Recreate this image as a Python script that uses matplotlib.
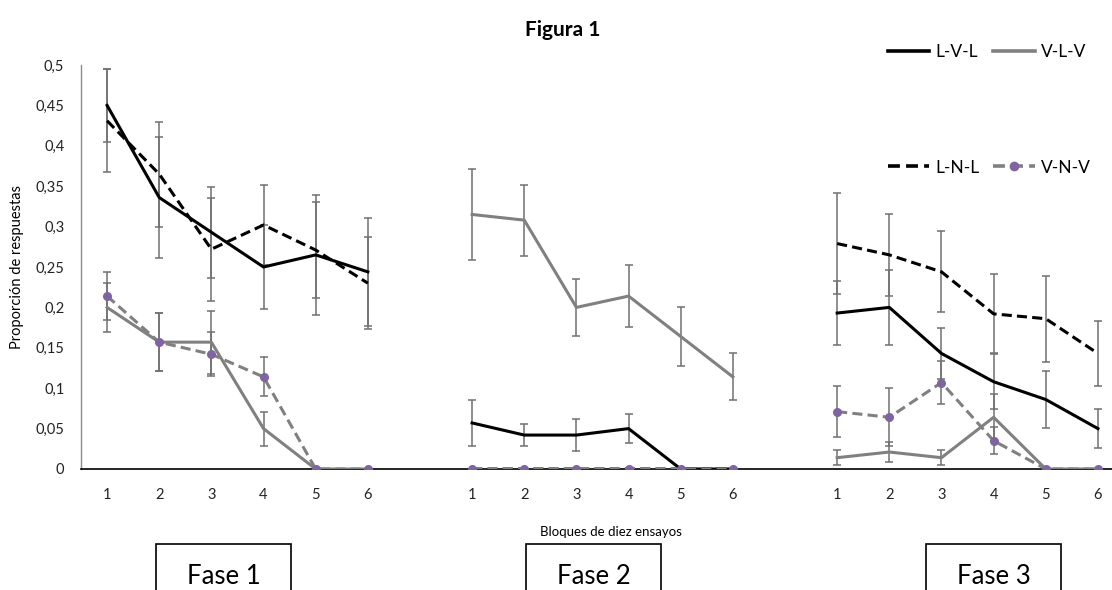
import matplotlib
matplotlib.use("Agg")
import matplotlib.pyplot as plt
from matplotlib.lines import Line2D
from matplotlib.patches import Rectangle
from matplotlib.ticker import FuncFormatter
import numpy as np

plt.rcParams['font.family'] = ['Lato', 'DejaVu Sans']

# blocks of ten trials per phase, three phases
blocks = [1, 2, 3, 4, 5, 6]
phases = ["Fase 1", "Fase 2", "Fase 3"]

# mean proportion of responses, phase 1 | phase 2 | phase 3
lvl = [0.450, 0.336, 0.293, 0.250, 0.265, 0.244,
       0.057, 0.042, 0.042, 0.050, 0.0, 0.0,
       0.193, 0.200, 0.143, 0.108, 0.086, 0.050]
vlv = [0.200, 0.157, 0.157, 0.050, 0.0, 0.0,
       0.315, 0.308, 0.200, 0.214, 0.164, 0.114,
       0.014, 0.021, 0.014, 0.064, 0.0, 0.0]
lnl = [0.431, 0.365, 0.272, 0.302, 0.271, 0.230,
       0.0, 0.0, 0.0, 0.0, 0.0, 0.0,
       0.279, 0.265, 0.244, 0.192, 0.186, 0.143]
vnv = [0.214, 0.157, 0.142, 0.114, 0.0, 0.0,
       0.0, 0.0, 0.0, 0.0, 0.0, 0.0,
       0.071, 0.064, 0.107, 0.035, 0.0, 0.0]

# standard errors
lvl_err = [0.045, 0.075, 0.056, 0.052, 0.074, 0.067,
           0.028, 0.014, 0.020, 0.018, 0.0, 0.0,
           0.040, 0.046, 0.032, 0.034, 0.035, 0.024]
vlv_err = [0.030, 0.036, 0.039, 0.021, 0.0, 0.0,
           0.056, 0.044, 0.035, 0.038, 0.036, 0.029,
           0.009, 0.012, 0.009, 0.029, 0.0, 0.0]
lnl_err = [0.064, 0.065, 0.064, 0.050, 0.059, 0.057,
           0.0, 0.0, 0.0, 0.0, 0.0, 0.0,
           0.062, 0.051, 0.050, 0.049, 0.053, 0.040]
vnv_err = [0.030, 0.036, 0.027, 0.024, 0.0, 0.0,
           0.0, 0.0, 0.0, 0.0, 0.0, 0.0,
           0.032, 0.036, 0.027, 0.017, 0.0, 0.0]


def with_gaps(vals):
    # one empty category between phases so the lines break
    out = []
    for p in range(3):
        out += list(vals[p * 6:(p + 1) * 6])
        if p < 2:
            out.append(np.nan)
    return np.array(out, dtype=float)


x = np.arange(20)
black = "#000000"
gray = "#808080"
purple = "#8064A2"
dash = (0, (3.3, 1.7))

fig = plt.figure(figsize=(11.12, 5.9), dpi=100)
ax = fig.add_axes([81 / 1112, 1 - 469 / 590, 1 - 81 / 1112, (469 - 65) / 590])

series = [
    (lvl, lvl_err, dict(color=black, ls="-")),
    (lnl, lnl_err, dict(color=black, ls=dash)),
    (vlv, vlv_err, dict(color=gray, ls="-")),
    (vnv, vnv_err, dict(color=gray, ls=dash, marker="o", ms=5.5,
                        mfc=purple, mec=purple)),
]

for vals, err, style in series:
    y = with_gaps(vals)
    e = with_gaps(err)
    ax.errorbar(x, y, yerr=e, fmt="none", ecolor="#707070", elinewidth=1.1,
                capsize=3, capthick=1.1, zorder=2)
    ax.plot(x, y, lw=2.2, zorder=3, **style)

ax.set_ylim(0, 0.5)
ax.set_xlim(-0.5, 19.27)
ax.set_yticks(np.arange(0, 0.501, 0.05))
ax.yaxis.set_major_formatter(FuncFormatter(
    lambda v, _: "0" if abs(v) < 1e-9 else ("%g" % round(v, 2)).replace(".", ",")))
ax.set_xticks([i for i in x if i not in (6, 13)])
ax.set_xticklabels([str(b) for b in blocks] * 3)
ax.tick_params(axis="both", length=0, labelsize=10.5, colors="#222222")
ax.tick_params(axis="x", pad=14)
ax.tick_params(axis="y", pad=12)

for side in ("top", "right"):
    ax.spines[side].set_visible(False)
ax.spines["left"].set_color("#8c8c8c")
ax.spines["left"].set_linewidth(1.0)
ax.spines["bottom"].set_color("#000000")
ax.spines["bottom"].set_linewidth(1.2)

ax.set_ylabel("Proporción de respuestas", fontsize=10.5, labelpad=8)

fig.text(563 / 1112, 1 - 30 / 590, "Figura 1", ha="center", va="center",
         fontsize=15, fontweight="bold")
fig.text(611 / 1112, 1 - 532 / 590, "Bloques de diez ensayos", ha="center",
         va="center", fontsize=9.5)

handles = [
    Line2D([], [], color=black, lw=2.6),
    Line2D([], [], color=black, lw=2.6, ls=dash),
    Line2D([], [], color=gray, lw=2.6),
    Line2D([], [], color=gray, lw=2.6, ls=dash, marker="o", ms=6,
           mfc=purple, mec=purple),
]
labels = ["L-V-L", "L-N-L", "V-L-V", "V-N-V"]
fig.legend(handles, labels, ncol=2, loc="upper left",
           bbox_to_anchor=(879 / 1112, 1 - 35 / 590), frameon=False,
           fontsize=12.5, handlelength=2.4, handletextpad=0.35,
           columnspacing=0.8, labelspacing=5.75, borderpad=0)

# phase boxes under the axis
box_left = [156, 526, 926]
for left, name in zip(box_left, phases):
    fig.patches.append(Rectangle((left / 1112, -0.1), 135 / 1112,
                                 0.1 + 1 - 544 / 590, transform=fig.transFigure,
                                 fill=False, edgecolor="black", lw=1.2))
    fig.text((left + 67.5) / 1112, 1 - 576 / 590, name, ha="center",
             va="center", fontsize=18.5)

fig.savefig("out.png", dpi=100)
